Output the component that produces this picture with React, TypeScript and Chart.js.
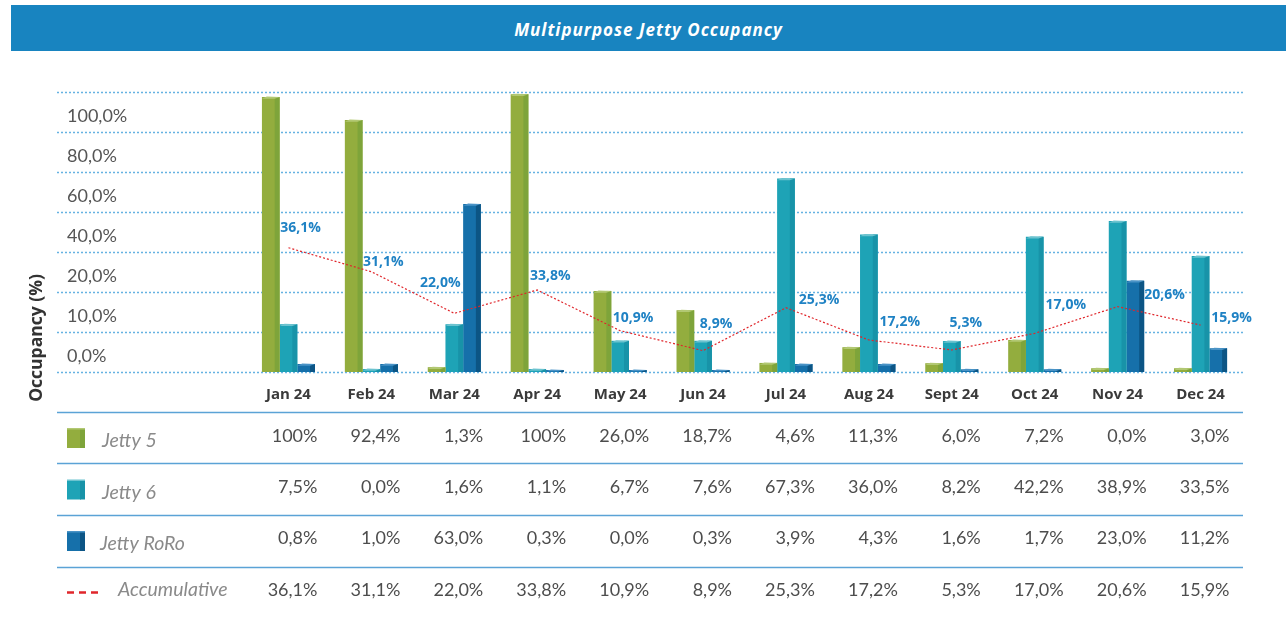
import React, { useEffect, useRef } from "react";
import { Chart, registerables } from "chart.js";

Chart.register(...registerables);

const months = ["Jan 24", "Feb 24", "Mar 24", "Apr 24", "May 24", "Jun 24", "Jul 24", "Aug 24", "Sept 24", "Oct 24", "Nov 24", "Dec 24"];

// bar heights as drawn in the picture (axis units: gridline every 15)
const jetty5Bars = [103.1, 94.5, 1.8, 104.2, 30.4, 23.2, 3.4, 9.3, 3.3, 12.0, 1.4, 1.4];
const jetty6Bars = [17.9, 1.1, 17.9, 1.1, 11.7, 11.7, 72.6, 51.6, 11.6, 50.7, 56.6, 43.5];
const roroBars = [3.0, 3.0, 63.0, 0.75, 0.75, 0.75, 3.0, 3.0, 1.0, 1.0, 34.2, 8.9];
const accumulativeLine = [46.6, 37.6, 22.0, 30.75, 15.5, 8.0, 24.1, 12.0, 8.25, 14.5, 24.5, 17.6];

// table values
const jetty5Table = [100, 92.4, 1.3, 100, 26.0, 18.7, 4.6, 11.3, 6.0, 7.2, 0.0, 3.0];
const jetty6Table = [7.5, 0.0, 1.6, 1.1, 6.7, 7.6, 67.3, 36.0, 8.2, 42.2, 38.9, 33.5];
const roroTable = [0.8, 1.0, 63.0, 0.3, 0.0, 0.3, 3.9, 4.3, 1.6, 1.7, 23.0, 11.2];
const accumulativeTable = [36.1, 31.1, 22.0, 33.8, 10.9, 8.9, 25.3, 17.2, 5.3, 17.0, 20.6, 15.9];

const yGridValues = [0, 15, 30, 45, 60, 75, 90, 105];
const yTickLabels = ["0,0%", "10,0%", "20,0%", "40,0%", "60,0%", "80,0%", "100,0%"];

const seriesNames = ["Jetty 5", "Jetty 6", "Jetty RoRo", "Accumulative"];

// data-label placement (style): offset of each label from its line point, like datalabels align/offset
const accLabelNudge: [number, number][] = [
  [12, -20], [12, -10], [-14, -30], [13, -14], [13, -13], [13, -27],
  [33, -8], [31, -18], [14, -27], [31, -28], [47, -12], [31, -7],
];

const FONT = "Lato, 'Open Sans', sans-serif";
const WIDE = "'Open Sans', Lato, sans-serif";

const fmt = (v: number) => (v === 100 ? "100%" : v.toFixed(1).replace(".", ",") + "%");

const faceColors = [
  { side: "#7ea43a", top: "#b2c873" },
  { side: "#1893a8", top: "#6cc3cf" },
  { side: "#0c5585", top: "#4a93c6" },
];

const GRID_LEFT = 57;
const GRID_RIGHT = 1243;

const decorPlugin = {
  id: "decor",
  beforeDatasetsDraw(chart: any) {
    const ctx = chart.ctx;
    const y = chart.scales.y;
    ctx.save();
    ctx.strokeStyle = "#66b2e2";
    ctx.lineWidth = 1.5;
    ctx.setLineDash([2, 2]);
    yGridValues.forEach((v) => {
      const py = Math.round(y.getPixelForValue(v)) + 0.5;
      ctx.beginPath();
      ctx.moveTo(GRID_LEFT, py);
      ctx.lineTo(GRID_RIGHT, py);
      ctx.stroke();
    });
    ctx.setLineDash([]);
    ctx.fillStyle = "#555555";
    ctx.font = `18px ${FONT}`;
    ctx.textAlign = "left";
    ctx.textBaseline = "middle";
    yTickLabels.forEach((lab, i) => {
      const py = y.getPixelForValue(yGridValues[i]) - 16;
      ctx.fillText(lab, 67, py);
    });
    ctx.restore();
  },
  afterDatasetDraw(chart: any, args: any) {
    const idx = args.index;
    if (idx > 2) return;
    const ctx = chart.ctx;
    const meta = chart.getDatasetMeta(idx);
    const fc = faceColors[idx];
    ctx.save();
    meta.data.forEach((bar: any) => {
      const { x, y, base, width } = bar.getProps(["x", "y", "base", "width"], true);
      const right = x + width / 2;
      const left = x - width / 2;
      const sw = Math.min(5, width * 0.28);
      const h = base - y;
      if (h <= 0) return;
      ctx.fillStyle = fc.side;
      ctx.fillRect(right - sw, y, sw, h);
      const t = Math.min(3, h);
      ctx.fillStyle = fc.top;
      ctx.beginPath();
      ctx.moveTo(left, y + t * 0.6);
      ctx.lineTo(right - sw, y + t * 0.6);
      ctx.lineTo(right, y);
      ctx.lineTo(left + sw, y - 0.5);
      ctx.closePath();
      ctx.fill();
    });
    ctx.restore();
  },
  afterDraw(chart: any) {
    const ctx = chart.ctx;
    const xs = chart.scales.x;
    const lineMeta = chart.getDatasetMeta(3);
    ctx.save();
    // accumulative labels
    ctx.fillStyle = "#1f82c4";
    ctx.font = `bold 14px ${WIDE}`;
    ctx.textAlign = "center";
    ctx.textBaseline = "middle";
    lineMeta.data.forEach((pt: any, i: number) => {
      const [dx, dy] = accLabelNudge[i];
      ctx.fillText(fmt(accumulativeTable[i]), pt.x + dx, pt.y + dy);
    });
    // x category labels
    ctx.fillStyle = "#3a3a3a";
    ctx.font = `bold 15px ${WIDE}`;
    months.forEach((m, i) => {
      ctx.fillText(m, xs.getPixelForValue(i), 395);
    });
    // y axis title
    ctx.save();
    ctx.translate(37, 338);
    ctx.rotate(-Math.PI / 2);
    ctx.font = `bold 17.5px ${WIDE}`;
    ctx.fillStyle = "#333333";
    ctx.fillText("Occupancy (%)", 0, 0);
    ctx.restore();

    // table lines
    ctx.strokeStyle = "#5ba3d6";
    ctx.lineWidth = 1.5;
    [412.5, 463.5, 515.5, 567.5].forEach((ly) => {
      ctx.beginPath();
      ctx.moveTo(GRID_LEFT, ly);
      ctx.lineTo(GRID_RIGHT, ly);
      ctx.stroke();
    });

    const rows = [jetty5Table, jetty6Table, roroTable, accumulativeTable];
    const valueY = [436, 487, 538.5, 590];
    const labelY = [441, 492.5, 544, 590];
    const labelX = [102, 102, 100, 118];
    const fronts = ["#93ad3e", "#1ea3b6", "#1670aa"];
    rows.forEach((row, r) => {
      if (r < 3) {
        const sy = labelY[r] - 12;
        ctx.fillStyle = fronts[r];
        ctx.fillRect(67, sy, 14, 19);
        ctx.fillStyle = faceColors[r].side;
        ctx.fillRect(80, sy, 5, 19);
        ctx.fillStyle = faceColors[r].top;
        ctx.fillRect(67, sy - 1, 18, 1.5);
      } else {
        ctx.strokeStyle = "#e0262b";
        ctx.lineWidth = 2.5;
        ctx.setLineDash([7, 5]);
        ctx.beginPath();
        ctx.moveTo(67, 592.5);
        ctx.lineTo(102, 592.5);
        ctx.stroke();
        ctx.setLineDash([]);
      }
      ctx.fillStyle = "#8a8a8a";
      ctx.font = `italic 19.5px ${FONT}`;
      ctx.textAlign = "left";
      ctx.fillText(seriesNames[r], labelX[r], labelY[r]);
      ctx.fillStyle = "#4d4d4d";
      ctx.font = `18px ${FONT}`;
      ctx.textAlign = "right";
      row.forEach((v, i) => {
        ctx.fillText(fmt(v), xs.getPixelForValue(i) + 29, valueY[r]);
      });
    });
    ctx.restore();
  },
};

export default function App() {
  const ref = useRef<HTMLCanvasElement | null>(null);
  useEffect(() => {
    document.body.style.margin = "0";
    const canvas = ref.current;
    if (!canvas) return;
    const ctx = canvas.getContext("2d");
    if (!ctx) return;
    const chart = new Chart(ctx, {
      type: "bar",
      data: {
        labels: months,
        datasets: [
          { label: seriesNames[0], data: jetty5Bars, backgroundColor: "#93ad3e", order: 1 },
          { label: seriesNames[1], data: jetty6Bars, backgroundColor: "#1ea3b6", order: 1 },
          { label: seriesNames[2], data: roroBars, backgroundColor: "#1670aa", order: 1 },
          {
            type: "line",
            label: seriesNames[3],
            data: accumulativeLine,
            borderColor: "#e0262b",
            borderWidth: 1.2,
            borderDash: [2, 2],
            pointRadius: 0,
            fill: false,
            tension: 0,
            order: 0,
          } as any,
        ],
      },
      options: {
        responsive: false,
        animation: false,
        devicePixelRatio: 1,
        layout: { padding: { left: 247, right: 44, top: 92, bottom: 253 } },
        datasets: { bar: { categoryPercentage: 0.64, barPercentage: 1.0 } } as any,
        scales: {
          x: { display: false, offset: true },
          y: { display: false, min: 0, max: 105 },
        },
        plugins: {
          legend: { display: false },
          title: { display: false },
          tooltip: { enabled: false },
        },
      },
      plugins: [decorPlugin],
    });
    return () => chart.destroy();
  }, []);

  return (
    <div style={{ position: "relative", width: 1286, height: 625, background: "#ffffff", overflow: "hidden" }}>
      <div
        style={{
          position: "absolute",
          left: 11,
          top: 5,
          width: 1275,
          height: 46,
          background: "#1884c0",
          color: "#ffffff",
          fontFamily: WIDE,
          fontWeight: "bold",
          fontStyle: "italic",
          fontSize: 17,
          letterSpacing: "1px",
          lineHeight: "50px",
          textAlign: "center",
        }}
      >
        Multipurpose Jetty Occupancy
      </div>
      <canvas ref={ref} width={1286} height={625} style={{ position: "absolute", left: 0, top: 0 }} />
    </div>
  );
}
